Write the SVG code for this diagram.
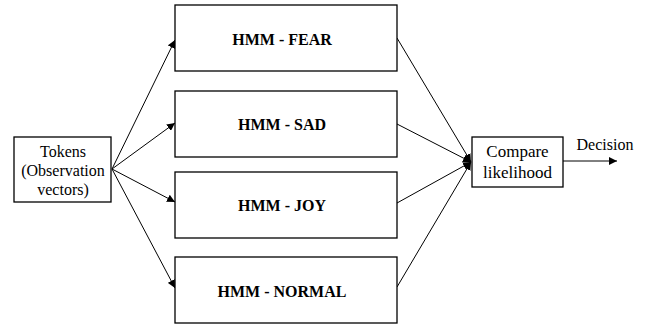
<svg xmlns="http://www.w3.org/2000/svg" width="654" height="325" viewBox="0 0 654 325">
<defs>
<style>
.box{fill:#fff;stroke:#000;stroke-width:1.3}
.t{font-size:16px;fill:#000;text-anchor:middle}
.c{font-size:17px;fill:#000;text-anchor:middle}
.h{font-size:16px;font-weight:bold;fill:#000;text-anchor:middle}
.ln{stroke:#000;stroke-width:1;fill:none;marker-end:url(#ah)}
</style>
<marker id="ah" viewBox="0 0 10 10" refX="10" refY="5" markerWidth="8" markerHeight="8" markerUnits="userSpaceOnUse" orient="auto">
<path d="M0,0 L10,5 L0,10 z" fill="#000"/>
</marker>
</defs>
<rect width="654" height="325" fill="#fff"/>
<g id="connectors">
<path class="ln" d="M112,169 L175,40"/>
<path class="ln" d="M112,169 L175,123"/>
<path class="ln" d="M112,169 L175,202"/>
<path class="ln" d="M112,169 L175,288"/>
<path class="ln" d="M397,38 L471,162"/>
<path class="ln" d="M397,124 L471,162"/>
<path class="ln" d="M397,203 L471,162"/>
<path class="ln" d="M397,287 L471,162"/>
<path class="ln" d="M563,161 L617,161"/>
</g>
<g font-family="'Liberation Serif', 'DejaVu Serif', 'Times New Roman', serif">
<g id="tokens">
<rect class="box" x="14" y="137" width="97" height="65"/>
<text class="t" x="63" y="157">Tokens</text>
<text class="t" x="63" y="176">(Observation</text>
<text class="t" x="63" y="195">vectors)</text>
</g>
<g id="hmm-fear">
<rect class="box" x="175" y="5" width="222" height="66"/>
<text class="h" x="282" y="45">HMM - FEAR</text>
</g>
<g id="hmm-sad">
<rect class="box" x="175" y="91" width="222" height="66"/>
<text class="h" x="282" y="130">HMM - SAD</text>
</g>
<g id="hmm-joy">
<rect class="box" x="175" y="172" width="222" height="66"/>
<text class="h" x="282" y="211">HMM - JOY</text>
</g>
<g id="hmm-normal">
<rect class="box" x="175" y="257" width="222" height="66"/>
<text class="h" x="282" y="297">HMM - NORMAL</text>
</g>
<g id="compare">
<rect class="box" x="472" y="137" width="91" height="50"/>
<text class="c" x="517.5" y="157">Compare</text>
<text class="c" x="517.5" y="178">likelihood</text>
</g>
<g id="decision-label">
<text class="t" x="605" y="150">Decision</text>
</g>
</g>
</svg>
